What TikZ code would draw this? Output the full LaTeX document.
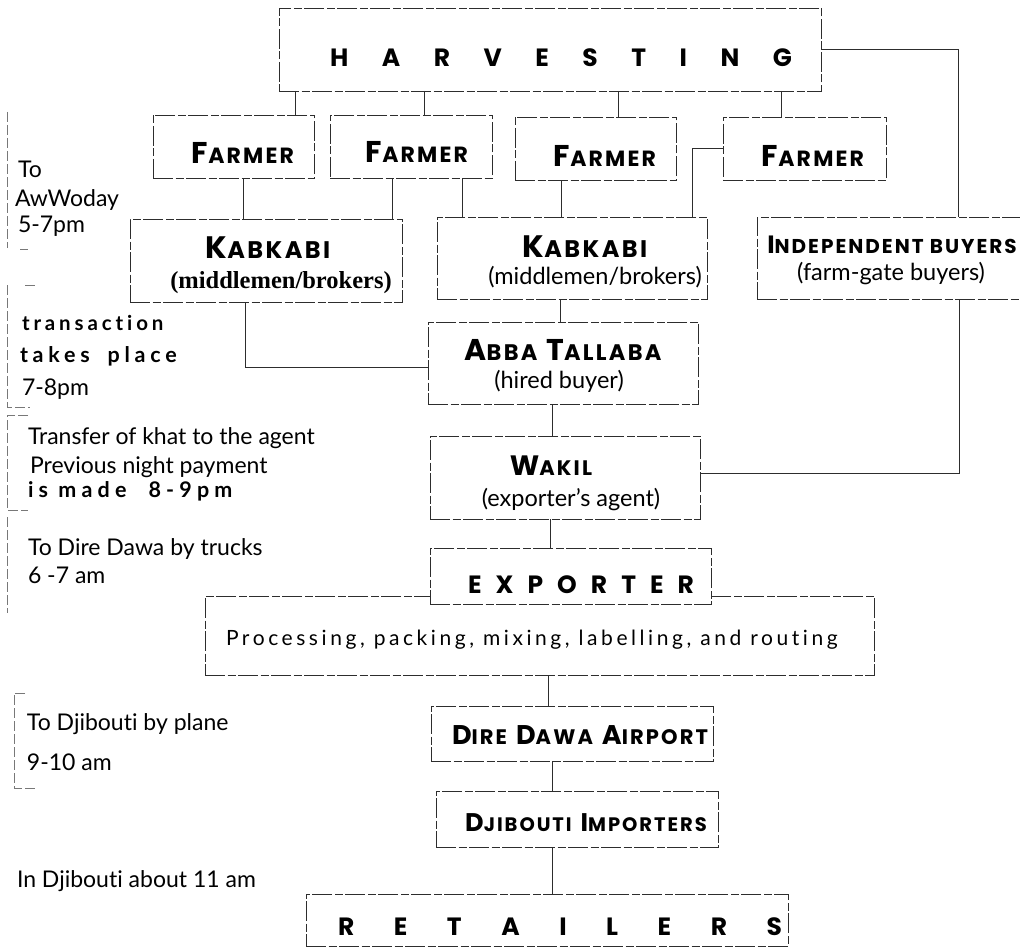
\documentclass[tikz,border=0pt]{standalone}
\usepackage{fontspec}
\setmainfont{Lato}[Ligatures={TeX,NoCommon}]
\newfontfamily\capf{Poppins}
\newfontfamily\serf{Liberation Serif}
\definecolor{linec}{RGB}{45,45,45}
\definecolor{brkc}{RGB}{120,120,120}
\newcommand\mkbox[6][]{\node[box,#1, minimum width={(#5-#3)*1pt}, minimum height={(#6-#4)*1pt}] (#2) at ({(#3+#5)/2},{(#4+#6)/2}) {};}
\newcommand\cB[2]{{\fontsize{#1}{#1}\selectfont #2}}
\newcommand\cS[2]{{\fontsize{#1}{#1}\selectfont\addfontfeature{LetterSpace=10}#2}}
\newcommand\gap{\hspace{9pt}}
\newcommand\spaced[2]{\bfseries\fontsize{#1}{#1}\selectfont\addfontfeature{LetterSpace=#2}}
\tikzset{
  box/.style={draw=linec, line width=0.8pt, dash pattern=on 20pt off 2.5pt on 8pt off 2.5pt, inner sep=0pt, outer sep=0pt},
  conn/.style={draw=linec, line width=0.8pt},
  brk/.style={draw=brkc, line width=0.6pt, dash pattern=on 10pt off 3pt},
  lbl/.style={inner sep=0pt, outer sep=0pt, anchor=base},
  ann/.style={inner sep=0pt, outer sep=0pt, anchor=base west, font=\fontsize{23}{23}\selectfont},
  wide/.style={inner sep=0pt, outer sep=0pt, anchor=base west},
  par/.style={lbl, font=\fontsize{23.5}{23.5}\selectfont},
}
\begin{document}
\begin{tikzpicture}[x=1pt, y=-1pt]
\useasboundingbox[fill=white] (0,0) rectangle (1020,947);

% ---------- boxes ----------
\mkbox{harv}{279}{8}{821}{91}
\mkbox{f1}{153}{115}{314}{178}
\mkbox{f2}{330}{115}{492}{178}
\mkbox{f3}{515}{117}{676}{180}
\mkbox{f4}{723}{117}{886}{180}
\mkbox{k1}{130}{219}{402}{302}
\mkbox{k2}{437}{217}{707}{299}
\mkbox{ib}{757}{217}{1030}{299}
\mkbox{at}{428}{322}{698}{404}
\mkbox{wak}{430}{436}{700}{519}
\mkbox{proc}{205}{596}{874}{675}
\mkbox[fill=white]{exp}{430}{548}{711}{604}
\mkbox{air}{431}{706}{713}{761}
\mkbox{dji}{436}{791}{718}{847}
\mkbox{ret}{306}{894}{788}{946}

% ---------- box texts ----------
\node[wide] (harvT) at (330,67) {\capf\bfseries\fontsize{25}{25}\selectfont\makebox[462pt][s]{H A R V E S T I N G}};
\node[lbl] (f1T) at (243,164) {\capf\bfseries\cB{30}{F}\cS{22}{ARMER}};
\node[lbl] (f2T) at (417,163) {\capf\bfseries\cB{30}{F}\cS{22}{ARMER}};
\node[lbl] (f3T) at (605,166) {\capf\bfseries\cB{30}{F}\cS{22}{ARMER}};
\node[lbl] (f4T) at (813,167) {\capf\bfseries\cB{30}{F}\cS{22}{ARMER}};
\node[lbl] (k1T) at (268,258) {\capf\bfseries\cB{31}{K}\cS{24}{ABKABI}};
\node[lbl] (k1P) at (281,288) {\serf\bfseries\fontsize{24.5}{24.5}\selectfont (middlemen/brokers)};
\node[lbl] (k2T) at (585,257) {\capf\bfseries\cB{31}{K}\cS{24}{ABKABI}};
\node[par] (k2P) at (595,284) {(middlemen/brokers)};
\node[lbl] (ibT) at (892,253) {\capf\bfseries\cB{25}{I}\cS{20}{NDEPENDENT BUYERS}};
\node[par] (ibP) at (891,280) {(farm-gate buyers)};
\node[lbl] (atT) at (563,360) {\capf\bfseries\cB{30}{A}\cS{22.5}{BBA}\gap\cB{30}{T}\cS{22.5}{ALLABA}};
\node[par] (atP) at (559,388) {(hired buyer)};
\node[lbl] (wakT) at (551,475) {\capf\bfseries\cB{28}{W}\cS{21}{AKIL}};
\node[par] (wakP) at (571,506) {(exporter's agent)};
\node[wide] (expT) at (468,593) {\capf\bfseries\fontsize{25}{25}\selectfont\makebox[226pt][s]{E X P O R T E R}};
\node[wide] (procT) at (226,645) {\fontsize{21}{21}\selectfont\addfontfeature{LetterSpace=17}Processing, packing, mixing, labelling, and routing};
\node[lbl] (airT) at (580,744) {\capf\bfseries\cB{27}{D}\cS{21}{IRE}\gap\cB{27}{D}\cS{21}{AWA}\gap\cB{27}{A}\cS{21}{IRPORT}};
\node[lbl] (djiT) at (586,831) {\capf\bfseries\cB{25.5}{D}\cS{19.5}{JIBOUTI}\gap\cB{25.5}{I}\cS{19.5}{MPORTERS}};
\node[wide] (retT) at (338,935) {\capf\bfseries\fontsize{25}{25}\selectfont\makebox[444pt][s]{R E T A I L E R S}};

% ---------- connectors ----------
\draw[conn] (harv.south -| 295,0) -- (f1.north -| 295,0);
\draw[conn] (harv.south -| 424,0) -- (f2.north -| 424,0);
\draw[conn] (harv.south -| 618,0) -- (f3.north -| 618,0);
\draw[conn] (harv.south -| 781,0) -- (f4.north -| 781,0);
\coordinate (hib) at (958,49.5);
\draw[conn] (harv.east) -- (hib) -- (ib.north -| hib);
\draw[conn] (f1.south -| 243,0) -- (k1.north -| 243,0);
\draw[conn] (f2.south -| 392,0) -- (k1.north -| 392,0);
\draw[conn] (f2.south -| 462,0) -- (k2.north -| 462,0);
\draw[conn] (f3.south -| 561,0) -- (k2.north -| 561,0);
\coordinate (f4k) at (692,148);
\draw[conn] (f4.west |- f4k) -- (f4k) -- (k2.north -| f4k);
\coordinate (k1a) at (245,367);
\draw[conn] (k1.south -| k1a) -- (k1a) -- (at.west |- k1a);
\draw[conn] (k2.south -| 560,0) -- (at.north -| 560,0);
\draw[conn] (at.south -| 552,0) -- (wak.north -| 552,0);
\coordinate (ibw) at (959,473);
\draw[conn] (ib.south -| ibw) -- (ibw) -- (wak.east |- ibw);
\draw[conn] (wak.south -| 550,0) -- (exp.north -| 550,0);
\draw[conn] (proc.south -| 548,0) -- (air.north -| 548,0);
\draw[conn] (air.south -| 552,0) -- (dji.north -| 552,0);
\draw[conn] (dji.south -| 552,0) -- (ret.north -| 552,0);

% ---------- time annotations ----------
\draw[brk] (7,112) -- (7,248);
\draw[brk] (20,249) -- (28,249);
\draw[brk] (25,285) -- (35,285);
\draw[brk] (7,285) -- (7,407) -- (30,407);
\draw[brk] (28,415) -- (7,415) -- (7,510) -- (28,510);
\draw[brk] (7,517) -- (7,613);
\draw[brk] (25,693) -- (14,693) -- (14,788) -- (38,788);

\node[ann] (a1) at (18,177) {To};
\node[ann] (a2) at (15,206) {AwWoday};
\node[ann] (a3) at (18,232) {5-7pm};
\node[wide] (b1) at (22,330) {\spaced{20.5}{19}transaction};
\node[wide] (b2) at (20,362) {\spaced{21.5}{22}takes\hspace{18pt}place};
\node[ann] (b3) at (22,395) {7-8pm};
\node[ann] (c1) at (28,444) {Transfer of khat to the agent};
\node[ann] (c2) at (30,473) {Previous night payment};
\node[wide] (c3) at (28,497) {\spaced{21.5}{24}is made\hspace{22pt}8-9pm};
\node[ann] (d1) at (28,555) {To Dire Dawa by trucks};
\node[ann] (d2) at (28,583) {6 -7 am};
\node[ann] (e1) at (27,730) {To Djibouti by plane};
\node[ann] (e2) at (27,770) {9-10 am};
\node[ann] (g1) at (17,887) {In Djibouti about 11 am};
\end{tikzpicture}
\end{document}
